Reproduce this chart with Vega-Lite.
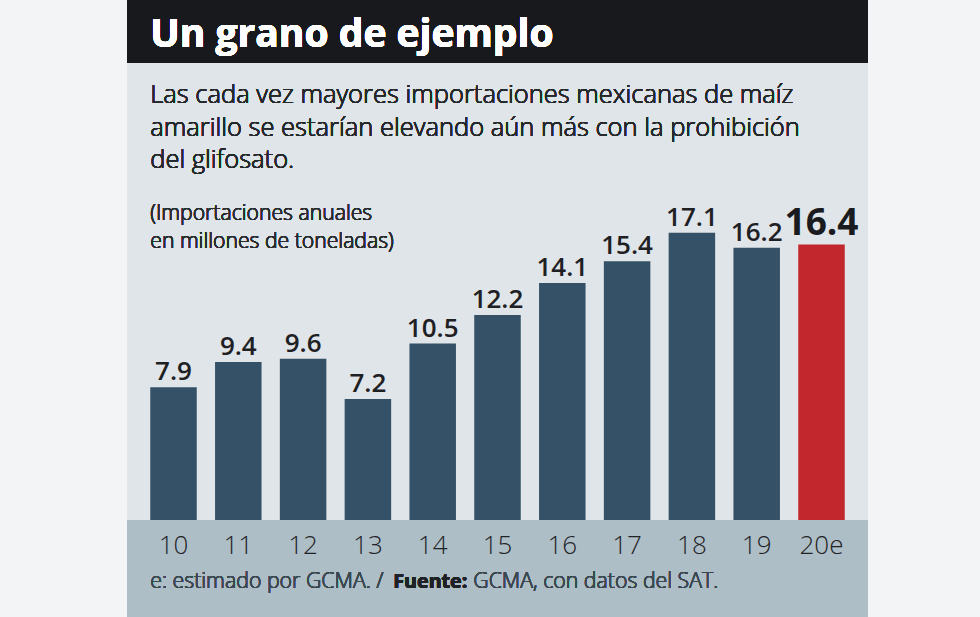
{
  "$schema": "https://vega.github.io/schema/vega-lite/v6.json",
  "width": 741,
  "height": 617,
  "autosize": {"type": "none"},
  "padding": {"left": 127, "right": 112, "top": 0, "bottom": 0},
  "background": "#f3f4f6",
  "config": {"view": {"fill": "#dfe5e8", "stroke": null}, "font": "Open Sans"},
  "data": {"values": [
    {"year": "10", "value": 7.9},
    {"year": "11", "value": 9.4},
    {"year": "12", "value": 9.6},
    {"year": "13", "value": 7.2},
    {"year": "14", "value": 10.5},
    {"year": "15", "value": 12.2},
    {"year": "16", "value": 14.1},
    {"year": "17", "value": 15.4},
    {"year": "18", "value": 17.1},
    {"year": "19", "value": 16.2},
    {"year": "20e", "value": 16.4}
  ]},
  "layer": [
    {
      "mark": {"type": "rect", "color": "#adbec6"},
      "encoding": {
        "y": {"datum": -5.774, "type": "quantitative", "scale": {"domain": [-5.774, 30.952], "nice": false, "zero": false}, "axis": null},
        "y2": {"datum": 0}
      }
    },
    {
      "mark": {"type": "rect", "color": "#18191d"},
      "encoding": {
        "y": {"datum": 27.2, "type": "quantitative", "scale": {"domain": [-5.774, 30.952], "nice": false, "zero": false}, "axis": null},
        "y2": {"datum": 30.952}
      }
    },
    {
      "mark": {"type": "bar"},
      "encoding": {
        "x": {"field": "year", "type": "ordinal", "sort": null,
          "scale": {"paddingInner": 0.2824, "paddingOuter": 0.3588},
          "axis": {"orient": "bottom", "offset": -97, "domain": false, "ticks": false, "tickSize": 0, "zindex": 2,
            "labelPadding": 33, "labelBaseline": "alphabetic", "labelFontSize": 26, "labelFontWeight": 300, "labelColor": "#1f2326",
            "labelAngle": 0, "labelFont": "Open Sans", "title": null, "grid": false}},
        "y": {"field": "value", "type": "quantitative", "scale": {"domain": [-5.774, 30.952], "nice": false, "zero": false}, "axis": null},
        "color": {"condition": {"test": "datum.year === '20e'", "value": "#c1272d"}, "value": "#355167"}
      }
    },
    {
      "transform": [{"filter": "datum.year !== '20e'"}],
      "mark": {"type": "text", "baseline": "alphabetic", "dy": -7, "fontSize": 26, "fontWeight": 600, "color": "#1e2023"},
      "encoding": {
        "x": {"field": "year", "type": "ordinal", "sort": null},
        "y": {"field": "value", "type": "quantitative", "scale": {"domain": [-5.774, 30.952], "nice": false, "zero": false}},
        "text": {"field": "value", "type": "quantitative", "format": ".1f"}
      }
    },
    {
      "transform": [{"filter": "datum.year === '20e'"}],
      "mark": {"type": "text", "baseline": "alphabetic", "dy": -9, "fontSize": 37, "fontWeight": "bold", "color": "#1a1b1e"},
      "encoding": {
        "x": {"field": "year", "type": "ordinal", "sort": null},
        "y": {"field": "value", "type": "quantitative", "scale": {"domain": [-5.774, 30.952], "nice": false, "zero": false}},
        "text": {"field": "value", "type": "quantitative", "format": ".1f"}
      }
    },
    {
      "mark": {"type": "text", "align": "left", "baseline": "alphabetic", "fontSize": 39, "fontWeight": "bold", "color": "#ffffff"},
      "encoding": {
        "x": {"datum": "10", "type": "ordinal", "bandPosition": 0},
        "y": {"datum": 28.155, "type": "quantitative", "scale": {"domain": [-5.774, 30.952], "nice": false, "zero": false}},
        "text": {"value": "Un grano de ejemplo"}
      }
    },
    {
      "mark": {"type": "text", "align": "left", "baseline": "alphabetic", "fontSize": 25.5, "fontWeight": 300, "lineHeight": 32.5, "color": "#26292c"},
      "encoding": {
        "x": {"datum": "10", "type": "ordinal", "bandPosition": 0},
        "y": {"datum": 24.82, "type": "quantitative", "scale": {"domain": [-5.774, 30.952], "nice": false, "zero": false}},
        "text": {"value": ["Las cada vez mayores importaciones mexicanas de maíz", "amarillo se estarían elevando aún más con la prohibición", "del glifosato."]}
      }
    },
    {
      "mark": {"type": "text", "align": "left", "baseline": "alphabetic", "fontSize": 21.2, "fontWeight": 300, "lineHeight": 28, "color": "#2a2d30"},
      "encoding": {
        "x": {"datum": "10", "type": "ordinal", "bandPosition": 0},
        "y": {"datum": 17.857, "type": "quantitative", "scale": {"domain": [-5.774, 30.952], "nice": false, "zero": false}},
        "text": {"value": ["(Importaciones anuales", "en millones de toneladas)"]}
      }
    },
    {
      "mark": {"type": "text", "align": "left", "baseline": "alphabetic", "fontSize": 21.3, "fontWeight": 300, "color": "#3b4850"},
      "encoding": {
        "x": {"datum": "10", "type": "ordinal", "bandPosition": 0},
        "y": {"datum": -4.048, "type": "quantitative", "scale": {"domain": [-5.774, 30.952], "nice": false, "zero": false}},
        "text": {"value": "e: estimado por GCMA. /"}
      }
    },
    {
      "mark": {"type": "text", "align": "left", "baseline": "alphabetic", "fontSize": 19.7, "fontWeight": "bold", "dx": 243, "color": "#1e2226"},
      "encoding": {
        "x": {"datum": "10", "type": "ordinal", "bandPosition": 0},
        "y": {"datum": -4.048, "type": "quantitative", "scale": {"domain": [-5.774, 30.952], "nice": false, "zero": false}},
        "text": {"value": "Fuente:"}
      }
    },
    {
      "mark": {"type": "text", "align": "left", "baseline": "alphabetic", "fontSize": 21.3, "fontWeight": 300, "dx": 323, "color": "#3b4850"},
      "encoding": {
        "x": {"datum": "10", "type": "ordinal", "bandPosition": 0},
        "y": {"datum": -4.048, "type": "quantitative", "scale": {"domain": [-5.774, 30.952], "nice": false, "zero": false}},
        "text": {"value": "GCMA, con datos del SAT."}
      }
    }
  ]
}
